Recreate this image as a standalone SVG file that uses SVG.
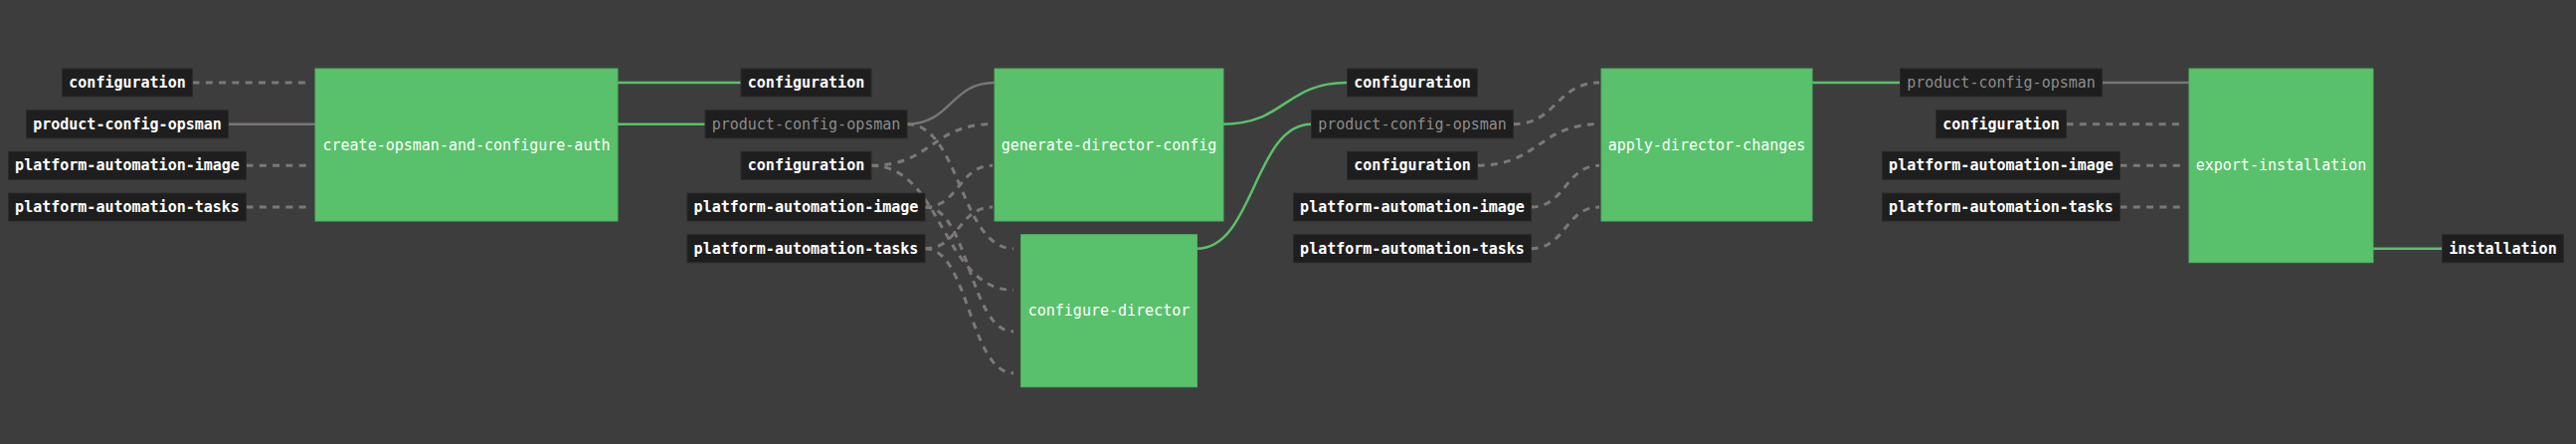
<svg xmlns="http://www.w3.org/2000/svg" width="2590" height="446" viewBox="0 0 2590 446">
<style>
.bg{fill:#3d3d3d}
.res rect{fill:#1e1e1e;stroke:#2a2a2a;stroke-width:1}
.res text{font-family:"DejaVu Sans Mono","Liberation Mono",monospace;font-size:15px;font-weight:bold;fill:#ffffff;text-anchor:middle;dominant-baseline:central}
.res text.dim{fill:#8c8c8c;font-weight:normal}
.job rect{fill:#59c16b;stroke:#52b263;stroke-width:1}
.job text{font-family:"DejaVu Sans Mono","Liberation Mono",monospace;font-size:15px;fill:#ffffff;text-anchor:middle;dominant-baseline:central}
.dash{fill:none;stroke:#7d7878;stroke-width:3;stroke-dasharray:7 6.3}
.solid{fill:none;stroke:#7a7575;stroke-width:2.5}
.green{fill:none;stroke:#59c16b;stroke-width:2.5}
</style>
<rect class="bg" x="0" y="0" width="2590" height="446"/>
<g id="connectors">
<path class="dash" d="M193.5 83 H311"/>
<path class="solid" d="M229.5 124.7 H317"/>
<path class="dash" d="M247.5 166.3 H311"/>
<path class="dash" d="M247.5 208 H311"/>
<path class="green" d="M621 83 H745"/>
<path class="green" d="M621 124.7 H709"/>
<path class="solid" d="M912 124.7 C956 124.7 956 83 1000 83"/>
<path class="dash" d="M876 166.3 C937 166.3 937 124.7 998 124.7"/>
<path class="dash" d="M930 208 C964 208 964 166.3 998 166.3"/>
<path class="dash" d="M930 249.7 C964 249.7 964 208 998 208"/>
<path class="dash" d="M912 124.7 C965.5 124.7 965.5 249.7 1019 249.7"/>
<path class="dash" d="M876 166.3 C947.5 166.3 947.5 291.3 1019 291.3"/>
<path class="dash" d="M930 208 C974.5 208 974.5 333 1019 333"/>
<path class="dash" d="M930 249.7 C974.5 249.7 974.5 374.7 1019 374.7"/>
<path class="green" d="M1230 124.7 C1292 124.7 1292 83 1354.5 83"/>
<path class="green" d="M1203.5 249.7 C1261 249.7 1261 124.7 1318.5 124.7"/>
<path class="dash" d="M1521.5 124.7 C1565 124.7 1565 83 1608 83"/>
<path class="dash" d="M1485.5 166.3 C1547 166.3 1547 124.7 1608 124.7"/>
<path class="dash" d="M1539.5 208 C1574 208 1574 166.3 1608 166.3"/>
<path class="dash" d="M1539.5 249.7 C1574 249.7 1574 208 1608 208"/>
<path class="green" d="M1822 83 H1910.5"/>
<path class="solid" d="M2113.5 83 H2201"/>
<path class="dash" d="M2077.5 124.7 H2195"/>
<path class="dash" d="M2131.5 166.3 H2195"/>
<path class="dash" d="M2131.5 208 H2195"/>
<path class="green" d="M2386 249.7 H2455.5"/>
</g>
<g id="r1-configuration" class="res"><rect x="62.5" y="69" width="131" height="28"/><text x="128" y="83">configuration</text></g>
<g id="r1-product-config-opsman" class="res"><rect x="26.5" y="110.7" width="203" height="28"/><text x="128" y="124.7">product-config-opsman</text></g>
<g id="r1-platform-automation-image" class="res"><rect x="8.5" y="152.3" width="239" height="28"/><text x="128" y="166.3">platform-automation-image</text></g>
<g id="r1-platform-automation-tasks" class="res"><rect x="8.5" y="194" width="239" height="28"/><text x="128" y="208">platform-automation-tasks</text></g>
<g id="job-create-opsman-and-configure-auth" class="job"><rect x="317" y="69" width="304" height="153"/><text x="469" y="145.5">create-opsman-and-configure-auth</text></g>
<g id="r2-configuration-out" class="res"><rect x="745" y="69" width="131" height="28"/><text x="810.5" y="83">configuration</text></g>
<g id="r2-product-config-opsman" class="res"><rect x="709" y="110.7" width="203" height="28"/><text class="dim" x="810.5" y="124.7">product-config-opsman</text></g>
<g id="r2-configuration" class="res"><rect x="745" y="152.3" width="131" height="28"/><text x="810.5" y="166.3">configuration</text></g>
<g id="r2-platform-automation-image" class="res"><rect x="691" y="194" width="239" height="28"/><text x="810.5" y="208">platform-automation-image</text></g>
<g id="r2-platform-automation-tasks" class="res"><rect x="691" y="235.7" width="239" height="28"/><text x="810.5" y="249.7">platform-automation-tasks</text></g>
<g id="job-generate-director-config" class="job"><rect x="1000" y="69" width="230" height="153"/><text x="1115" y="145.5">generate-director-config</text></g>
<g id="job-configure-director" class="job"><rect x="1026.5" y="235.7" width="177" height="153"/><text x="1115" y="312.2">configure-director</text></g>
<g id="r3-configuration-out" class="res"><rect x="1354.5" y="69" width="131" height="28"/><text x="1420" y="83">configuration</text></g>
<g id="r3-product-config-opsman" class="res"><rect x="1318.5" y="110.7" width="203" height="28"/><text class="dim" x="1420" y="124.7">product-config-opsman</text></g>
<g id="r3-configuration" class="res"><rect x="1354.5" y="152.3" width="131" height="28"/><text x="1420" y="166.3">configuration</text></g>
<g id="r3-platform-automation-image" class="res"><rect x="1300.5" y="194" width="239" height="28"/><text x="1420" y="208">platform-automation-image</text></g>
<g id="r3-platform-automation-tasks" class="res"><rect x="1300.5" y="235.7" width="239" height="28"/><text x="1420" y="249.7">platform-automation-tasks</text></g>
<g id="job-apply-director-changes" class="job"><rect x="1610" y="69" width="212" height="153"/><text x="1716" y="145.5">apply-director-changes</text></g>
<g id="r4-product-config-opsman" class="res"><rect x="1910.5" y="69" width="203" height="28"/><text class="dim" x="2012" y="83">product-config-opsman</text></g>
<g id="r4-configuration" class="res"><rect x="1946.5" y="110.7" width="131" height="28"/><text x="2012" y="124.7">configuration</text></g>
<g id="r4-platform-automation-image" class="res"><rect x="1892.5" y="152.3" width="239" height="28"/><text x="2012" y="166.3">platform-automation-image</text></g>
<g id="r4-platform-automation-tasks" class="res"><rect x="1892.5" y="194" width="239" height="28"/><text x="2012" y="208">platform-automation-tasks</text></g>
<g id="job-export-installation" class="job"><rect x="2201" y="69" width="185" height="194.7"/><text x="2293.5" y="166.3">export-installation</text></g>
<g id="r5-installation" class="res"><rect x="2455.5" y="235.7" width="122" height="28"/><text x="2516.5" y="249.7">installation</text></g>
</svg>
